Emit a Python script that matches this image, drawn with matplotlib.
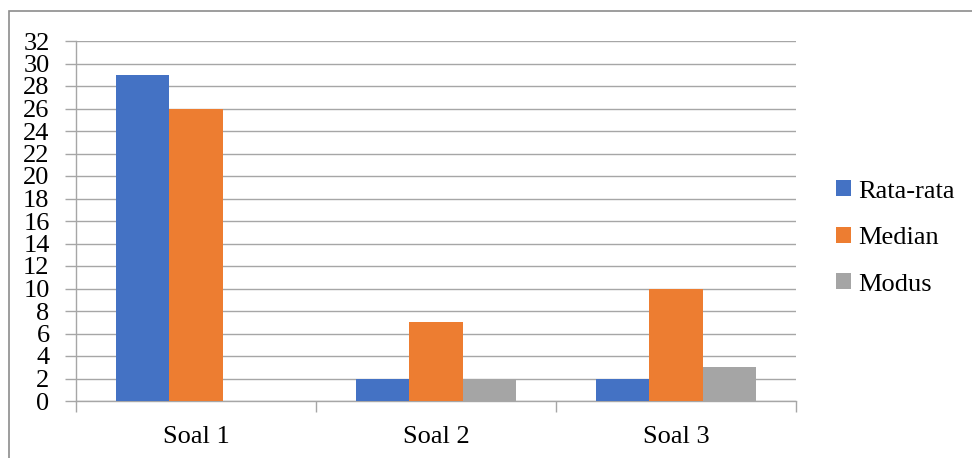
import matplotlib
matplotlib.use("Agg")
import matplotlib.pyplot as plt
from matplotlib.patches import Rectangle
import numpy as np

categories = ["Soal 1", "Soal 2", "Soal 3"]
series_names = ["Rata-rata", "Median", "Modus"]
rata_rata = [29, 2, 2]
median = [26, 7, 10]
modus = [0, 2, 3]
y_ticks = list(range(0, 33, 2))

colors = ["#4472C4", "#ED7D31", "#A5A5A5"]

plt.rcParams["font.family"] = ["Liberation Serif", "DejaVu Serif"]

W, H = 972, 458
fig = plt.figure(figsize=(W / 100, H / 100), dpi=100)

# outer chart frame
fig.patches.append(Rectangle((9 / W, -0.05), 1.2, 1 - 11 / H + 0.05,
                             transform=fig.transFigure, fill=False,
                             edgecolor="#8c8c8c", linewidth=1.2))

ax = fig.add_axes([76 / W, 1 - 401 / H, 720 / W, 360 / H])

x = np.arange(len(categories))
bw = 1 / 4.5
for i, (vals, name) in enumerate(zip([rata_rata, median, modus], series_names)):
    ax.bar(x + (i - 1) * bw, vals, width=bw, color=colors[i], label=name,
           zorder=3)

FS = 19
ax.set_xlim(-0.5, len(categories) - 0.5)
ax.set_ylim(0, 32)
ax.set_yticks(y_ticks)
ax.set_yticklabels([str(v) for v in y_ticks], fontsize=FS)
ax.set_xticks(x)
ax.set_xticklabels(categories, fontsize=FS)
ax.tick_params(axis="x", length=0, pad=18)
ax.tick_params(axis="y", length=8, width=1, color="#a6a6a6", pad=11)

# category boundary ticks below the x axis
ax.set_xticks(np.arange(-0.5, len(categories)), minor=True)
ax.tick_params(axis="x", which="minor", length=8, width=1, color="#a6a6a6")

ax.grid(axis="y", color="#a6a6a6", linewidth=1, zorder=0)
for s in ["top", "right"]:
    ax.spines[s].set_visible(False)
for s in ["left", "bottom"]:
    ax.spines[s].set_color("#a6a6a6")
    ax.spines[s].set_linewidth(1)

ax.legend(loc="center left", bbox_to_anchor=(823 / W, 1 - 238 / H),
          bbox_transform=fig.transFigure, frameon=False, fontsize=FS,
          handlelength=0.55, handleheight=0.55, handletextpad=0.3,
          labelspacing=0.92, borderpad=0.0)

fig.savefig("out.png", dpi=100)
